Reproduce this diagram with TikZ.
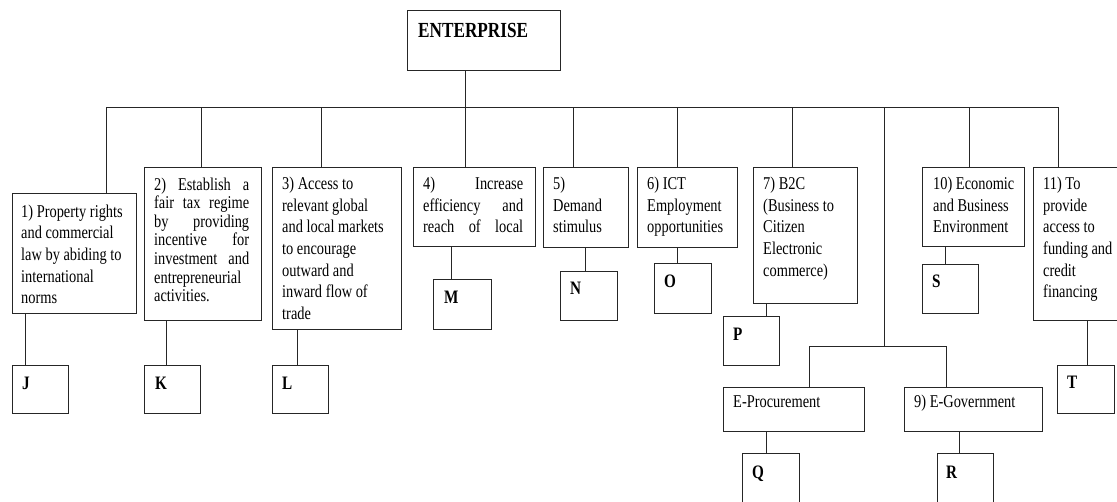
\documentclass[tikz,border=0pt]{standalone}
\usepackage{fontspec}
\setmainfont{Liberation Serif}[FakeStretch=0.8]
\usetikzlibrary{fit}
\tikzset{
  bx/.style={draw=black!85, line width=0.9pt, inner sep=0pt, outer sep=0pt},
  ln/.style={draw=black!85, line width=0.9pt},
  txt/.style={anchor=base west, inner sep=0pt, font=\fontsize{18}{21.7}\selectfont, text=black},
  tight/.style={font=\fontsize{18}{18.6}\selectfont},
  lt/.style={anchor=base west, inner sep=0pt, font=\fontsize{19}{22}\selectfont\bfseries, text=black},
}
\newcommand\mybox[5]{\node[bx, fit={(#2,#3) (#4,#5)}] (#1) {};}
\newcommand\mydrop[2]{\path (#2,107) coordinate (dtmp); \draw[ln] (dtmp) -- (dtmp |- #1.north);}
\newcommand\vlink[3]{\path (#3,0) coordinate (vtmp); \draw[ln] (vtmp |- #1.south) -- (vtmp |- #2.north);}
\newcommand\jl[1]{\makebox[\linewidth][s]{#1}}
\begin{document}
\begin{tikzpicture}[x=1pt,y=-1pt]
\clip (0,0) rectangle (1117,501);
% boxes
\mybox{ent}{407}{10}{560}{70}
\mybox{b1}{12}{193}{136}{313}
\mybox{b2}{144}{167}{261}{320}
\mybox{b3}{272}{167}{401}{329}
\mybox{b4}{413}{167}{535}{246}
\mybox{b5}{543}{167}{628}{247}
\mybox{b6}{637}{167}{737}{247}
\mybox{b7}{753}{167}{857}{303}
\mybox{b10}{922}{167}{1024}{246}
\mybox{b11}{1033}{167}{1135}{320}
\mybox{b8}{723}{387}{864}{431}
\mybox{b9}{904}{387}{1042}{431}
\mybox{J}{12}{365}{68}{413}
\mybox{K}{144}{365}{200}{413}
\mybox{L}{272}{365}{328}{413}
\mybox{M}{433}{279}{491}{329}
\mybox{N}{560}{271}{617}{320}
\mybox{O}{654}{263}{711}{313}
\mybox{P}{723}{316}{779}{365}
\mybox{S}{922}{264}{978}{313}
\mybox{T}{1057}{365}{1114}{413}
\mybox{Q}{742}{453}{799}{515}
\mybox{R}{937}{453}{993}{515}
% texts
\node[txt, font=\fontsize{21.5}{24}\selectfont\bfseries] (tent) at (418,37.5) {ENTERPRISE};
\node[txt] (t1) at (21,217) {\parbox[t]{112pt}{\raggedright 1) Property rights\\and commercial\\law by abiding to\\international\\norms}};
\node[txt, tight] (t2) at (154,190) {\parbox[t]{95pt}{\raggedright \jl{2) Establish a}\\\jl{fair tax regime}\\\jl{by providing}\\\jl{incentive for}\\\jl{investment and}\\entrepreneurial\\activities.}};
\node[txt] (t3) at (282,189.3) {\parbox[t]{115pt}{\raggedright 3) Access to\\relevant global\\and local markets\\to encourage\\outward and\\inward flow of\\trade}};
\node[txt] (t4) at (423,189.3) {\parbox[t]{100pt}{\raggedright \jl{4) Increase}\\\jl{efficiency and}\\\jl{reach of local}}};
\node[txt] (t5) at (553,189.3) {\parbox[t]{72pt}{\raggedright 5)\\Demand\\stimulus}};
\node[txt] (t6) at (647,189.3) {\parbox[t]{88pt}{\raggedright 6) ICT\\Employment\\opportunities}};
\node[txt] (t7) at (763,189.3) {\parbox[t]{92pt}{\raggedright 7) B2C\\(Business to\\Citizen\\Electronic\\commerce)}};
\node[txt] (t10) at (933,189.3) {\parbox[t]{90pt}{\raggedright 10) Economic\\and Business\\Environment}};
\node[txt] (t11) at (1043,189.3) {\parbox[t]{80pt}{\raggedright 11) To\\provide\\access to\\funding and\\credit\\financing}};
\node[txt] (t8) at (733,407) {E-Procurement};
\node[txt] (t9) at (914,407) {9) E-Government};
\node[lt] (lJ) at (22,389) {J};
\node[lt] (lK) at (155,389) {K};
\node[lt] (lL) at (282,389) {L};
\node[lt] (lM) at (444,303) {M};
\node[lt] (lN) at (570,294) {N};
\node[lt] (lO) at (664,287) {O};
\node[lt] (lP) at (733,340) {P};
\node[lt] (lS) at (932,287) {S};
\node[lt] (lT) at (1067,388) {T};
\node[lt] (lQ) at (752,478) {Q};
\node[lt] (lR) at (946,478) {R};
% bus
\coordinate (busL) at (106,107);
\coordinate (busR) at (1058,107);
\draw[ln] (busL) -- (busR);
\path (465,107) coordinate (e0);
\draw[ln] (e0 |- ent.south) -- (e0);
\mydrop{b1}{106}
\mydrop{b2}{201}
\mydrop{b3}{321}
\mydrop{b4}{465}
\mydrop{b5}{573}
\mydrop{b6}{677}
\mydrop{b7}{792}
\mydrop{b10}{969}
\mydrop{b11}{1058}
% fork to 8 and 9
\coordinate (f0) at (884,107);
\coordinate (f1) at (884,346);
\draw[ln] (f0) -- (f1);
\coordinate (fl) at (809,346);
\coordinate (fr) at (946,346);
\draw[ln] (fl) -- (fr);
\draw[ln] (fl) -- (fl |- b8.north);
\draw[ln] (fr) -- (fr |- b9.north);
% links to letters
\vlink{b1}{J}{25}
\vlink{b2}{K}{166}
\vlink{b3}{L}{297}
\vlink{b4}{M}{451}
\vlink{b5}{N}{585}
\vlink{b6}{O}{677}
\vlink{b7}{P}{766}
\vlink{b10}{S}{945}
\vlink{b11}{T}{1087}
\vlink{b8}{Q}{766}
\vlink{b9}{R}{959}
\end{tikzpicture}
\end{document}
